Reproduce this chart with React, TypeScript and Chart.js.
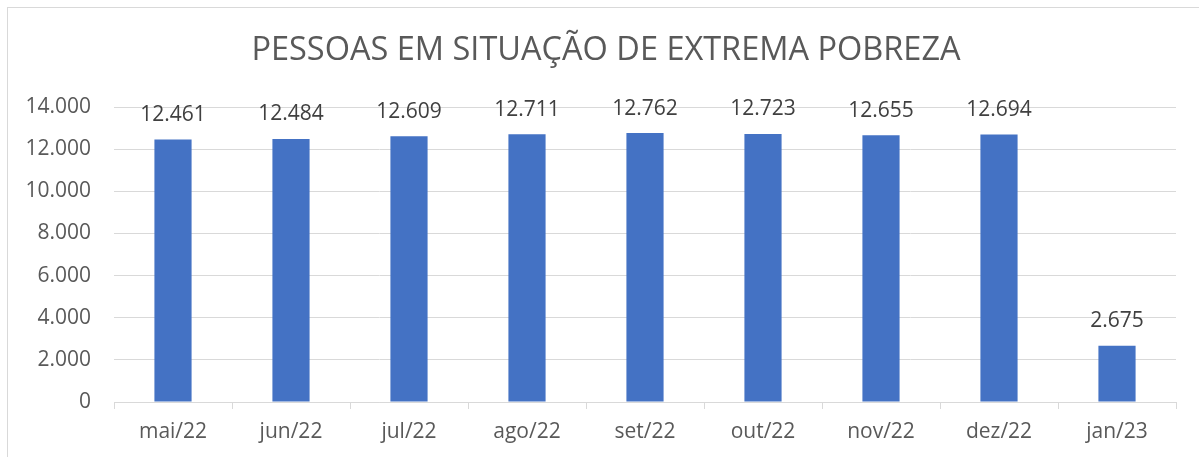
import React, { useEffect, useRef } from "react";
import { Chart, registerables } from "chart.js";

Chart.register(...registerables);

const TITLE = "PESSOAS EM SITUAÇÃO DE EXTREMA POBREZA";
const categories = ["mai/22", "jun/22", "jul/22", "ago/22", "set/22", "out/22", "nov/22", "dez/22", "jan/23"];
const values = [12461, 12484, 12609, 12711, 12762, 12723, 12655, 12694, 2675];
const yTicks = [0, 2000, 4000, 6000, 8000, 10000, 12000, 14000];

const FONT = "'Open Sans', 'Noto Sans', sans-serif";

const fmt = (v: number) => String(Math.round(v)).replace(/\B(?=(\d{3})+(?!\d))/g, ".");

const dataLabels = {
  id: "dataLabels",
  afterDatasetsDraw(chart: any) {
    const ctx = chart.ctx;
    const meta = chart.getDatasetMeta(0);
    const ds = chart.data.datasets[0];
    ctx.save();
    ctx.font = `21px ${FONT}`;
    ctx.fillStyle = "#404040";
    ctx.textAlign = "center";
    ctx.textBaseline = "bottom";
    meta.data.forEach((bar: any, i: number) => {
      ctx.fillText(fmt(ds.data[i]), bar.x, bar.y - 14);
    });
    ctx.restore();
  },
};

// Title centred on the bordered chart frame (which starts at x=7)
const frameTitle = {
  id: "frameTitle",
  afterDraw(chart: any) {
    const ctx = chart.ctx;
    ctx.save();
    ctx.font = `32.5px ${FONT}`;
    ctx.fillStyle = "#595959";
    ctx.textAlign = "center";
    ctx.textBaseline = "middle";
    ctx.fillText(TITLE, (chart.width + 13) / 2, 51);
    ctx.restore();
  },
};

export default function App() {
  const ref = useRef<HTMLCanvasElement | null>(null);
  useEffect(() => {
    if (!ref.current) return;
    const chart = new Chart(ref.current, {
      type: "bar",
      data: {
        labels: categories,
        datasets: [
          {
            data: values,
            backgroundColor: "#4472C4",
            borderWidth: 0,
            barPercentage: 0.315,
            categoryPercentage: 1,
          },
        ],
      },
      plugins: [dataLabels, frameTitle],
      options: {
        responsive: false,
        animation: false,
        layout: { padding: { left: 0, right: 23, top: 107, bottom: 0 } },
        plugins: {
          legend: { display: false },
          tooltip: { enabled: false },
          title: { display: false },
        },
        scales: {
          x: {
            offset: true,
            grid: {
              display: true,
              offset: true,
              drawOnChartArea: false,
              drawTicks: true,
              tickLength: 7,
              color: "#d9d9d9",
              lineWidth: 1,
            },
            border: { display: true, color: "#d9d9d9", width: 1 },
            ticks: {
              color: "#595959",
              font: { family: FONT, size: 21 },
              padding: 10,
              maxRotation: 0,
              autoSkip: false,
            },
            afterFit(scale: any) {
              scale.height = 55;
            },
          },
          y: {
            min: 0,
            max: 14000,
            afterBuildTicks(scale: any) {
              scale.ticks = yTicks.map((v) => ({ value: v }));
            },
            grid: { color: "#d9d9d9", drawTicks: false, lineWidth: 1 },
            border: { display: false },
            ticks: {
              color: "#595959",
              font: { family: FONT, size: 21 },
              padding: 23,
              callback: (v: any) => fmt(Number(v)),
            },
            afterFit(scale: any) {
              scale.width = 114;
            },
          },
        },
      },
    });
    return () => chart.destroy();
  }, []);

  return (
    <div style={{ position: "fixed", left: 0, top: 0, width: 1199, height: 457, background: "#fff", overflow: "hidden" }}>
      <div
        style={{
          position: "absolute",
          left: 7,
          top: 7,
          width: 1300,
          height: 600,
          border: "1px solid #d9d9d9",
          boxSizing: "border-box",
        }}
      />
      <canvas ref={ref} width={1199} height={457} style={{ position: "absolute", left: 0, top: 0, width: 1199, height: 457 }} />
    </div>
  );
}
